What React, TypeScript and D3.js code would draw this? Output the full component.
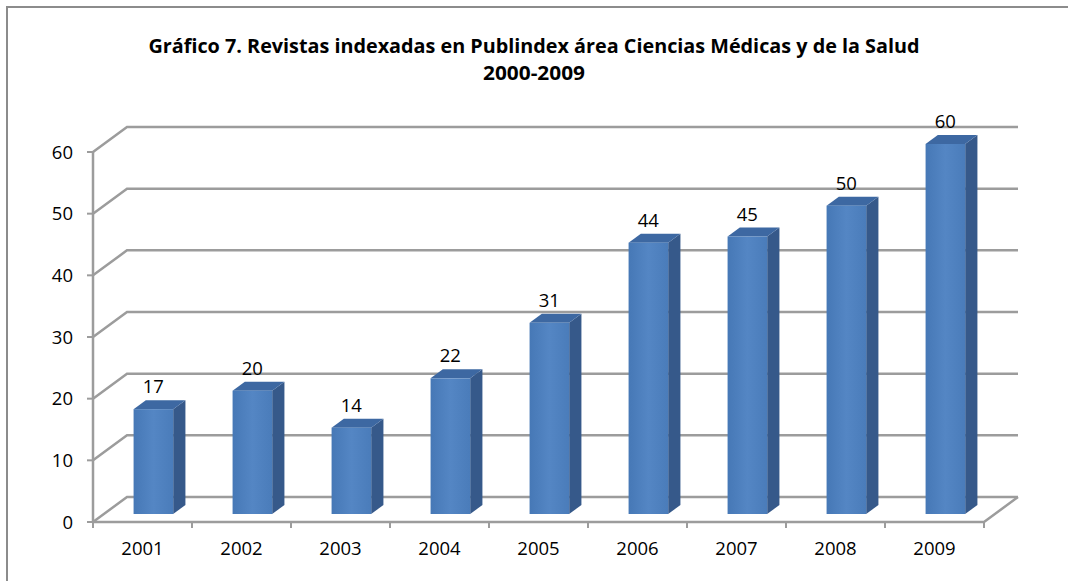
import React from "react";
import * as d3 from "d3";

const years = ["2001", "2002", "2003", "2004", "2005", "2006", "2007", "2008", "2009"];
const values = [17, 20, 14, 22, 31, 44, 45, 50, 60];
const yTicks = [0, 10, 20, 30, 40, 50, 60];
const titleLine1 = "Gráfico 7. Revistas indexadas en Publindex área Ciencias Médicas y de la Salud";
const titleLine2 = "2000-2009";

const W = 1068;
const H = 581;
const DX = 34;
const DY = -25;
const BAR_FRONT = 0.32;
const BAR_DEPTH = 0.36;
const GRID = "#9c9c9c";
const FONT = "'Open Sans', 'Liberation Sans', sans-serif";

export default function App() {
  const x = d3.scaleBand<string>().domain(years).range([93, 984]).padding(0);
  const y = d3.scaleLinear().domain([0, 60]).range([522, 152]);
  const bw = x.bandwidth() * 0.4;
  const x0 = x.range()[0];
  const x1 = x.range()[1];
  const y0 = y(0);

  const fdx = BAR_FRONT * DX;
  const fdy = BAR_FRONT * DY;
  const bdx = BAR_DEPTH * DX;
  const bdy = BAR_DEPTH * DY;

  return (
    <svg
      width={W}
      height={H}
      style={{ position: "absolute", left: 0, top: 0, background: "#fff" }}
    >
      <defs>
        <linearGradient id="front" x1="0" x2="1" y1="0" y2="0">
          <stop offset="0" stopColor="#4678b6" />
          <stop offset="0.5" stopColor="#5486c4" />
          <stop offset="1" stopColor="#4a7cba" />
        </linearGradient>
      </defs>
      <rect x={7} y={7} width={W + 10} height={H + 10} fill="#fff" stroke="#8c8c8c" strokeWidth={2} />

      <text x={534} y={53} textAnchor="middle" fontFamily={FONT} fontWeight="bold" fontSize={19.5}
        textLength={771} lengthAdjust="spacingAndGlyphs" fill="#000">
        {titleLine1}
      </text>
      <text x={534} y={80} textAnchor="middle" fontFamily={FONT} fontWeight="bold" fontSize={19.5}
        textLength={102} lengthAdjust="spacingAndGlyphs" fill="#000">
        {titleLine2}
      </text>

      {/* gridlines on side and back walls */}
      {yTicks.map((t) => (
        <polyline
          key={"g" + t}
          points={`${x0},${y(t)} ${x0 + DX},${y(t) + DY} ${x1 + DX},${y(t) + DY}`}
          fill="none"
          stroke={GRID}
          strokeWidth={2.5}
        />
      ))}
      {/* floor */}
      <polyline
        points={`${x0},${y0} ${x1},${y0} ${x1 + DX},${y0 + DY}`}
        fill="none"
        stroke={GRID}
        strokeWidth={2.5}
      />
      {/* y axis */}
      <line x1={x0} x2={x0} y1={y(60)} y2={y0} stroke={GRID} strokeWidth={2.5} />
      {yTicks.map((t) => (
        <line key={"yt" + t} x1={x0 - 6} x2={x0} y1={y(t)} y2={y(t)} stroke={GRID} strokeWidth={2} />
      ))}
      {yTicks.map((t) => (
        <text key={"yl" + t} x={73} y={y(t) + 6.5} textAnchor="end" fontFamily={FONT} fontSize={18.5} fill="#000">
          {t}
        </text>
      ))}
      {/* x ticks */}
      {years.concat(["end"]).map((yr, i) => {
        const xx = i < years.length ? (x(yr) as number) : x1;
        return <line key={"xt" + i} x1={xx} x2={xx} y1={y0} y2={y0 + 6} stroke={GRID} strokeWidth={2} />;
      })}
      {years.map((yr) => (
        <text key={"xl" + yr} x={(x(yr) as number) + x.bandwidth() / 2} y={555} textAnchor="middle"
          fontFamily={FONT} fontSize={18.5} fill="#000">
          {yr}
        </text>
      ))}

      {/* bars */}
      {years.map((yr, i) => {
        const v = values[i];
        const fx = (x(yr) as number) + x.bandwidth() / 2 - bw / 2 + fdx;
        const fTop = y(v) + fdy;
        const fBot = y0 + fdy;
        const right = fx + bw;
        return (
          <g key={"b" + yr}>
            <polygon
              points={`${right},${fTop} ${right + bdx},${fTop + bdy} ${right + bdx},${fBot + bdy} ${right},${fBot}`}
              fill="#36598a"
            />
            <polygon
              points={`${fx},${fTop} ${fx + bdx},${fTop + bdy} ${right + bdx},${fTop + bdy} ${right},${fTop}`}
              fill="#3d68a2"
            />
            <rect x={fx} y={fTop} width={bw} height={fBot - fTop} fill="url(#front)" />
            <text x={fx + bw / 2} y={fTop - 16} textAnchor="middle" fontFamily={FONT} fontSize={18.5} fill="#000">
              {v}
            </text>
          </g>
        );
      })}
    </svg>
  );
}
